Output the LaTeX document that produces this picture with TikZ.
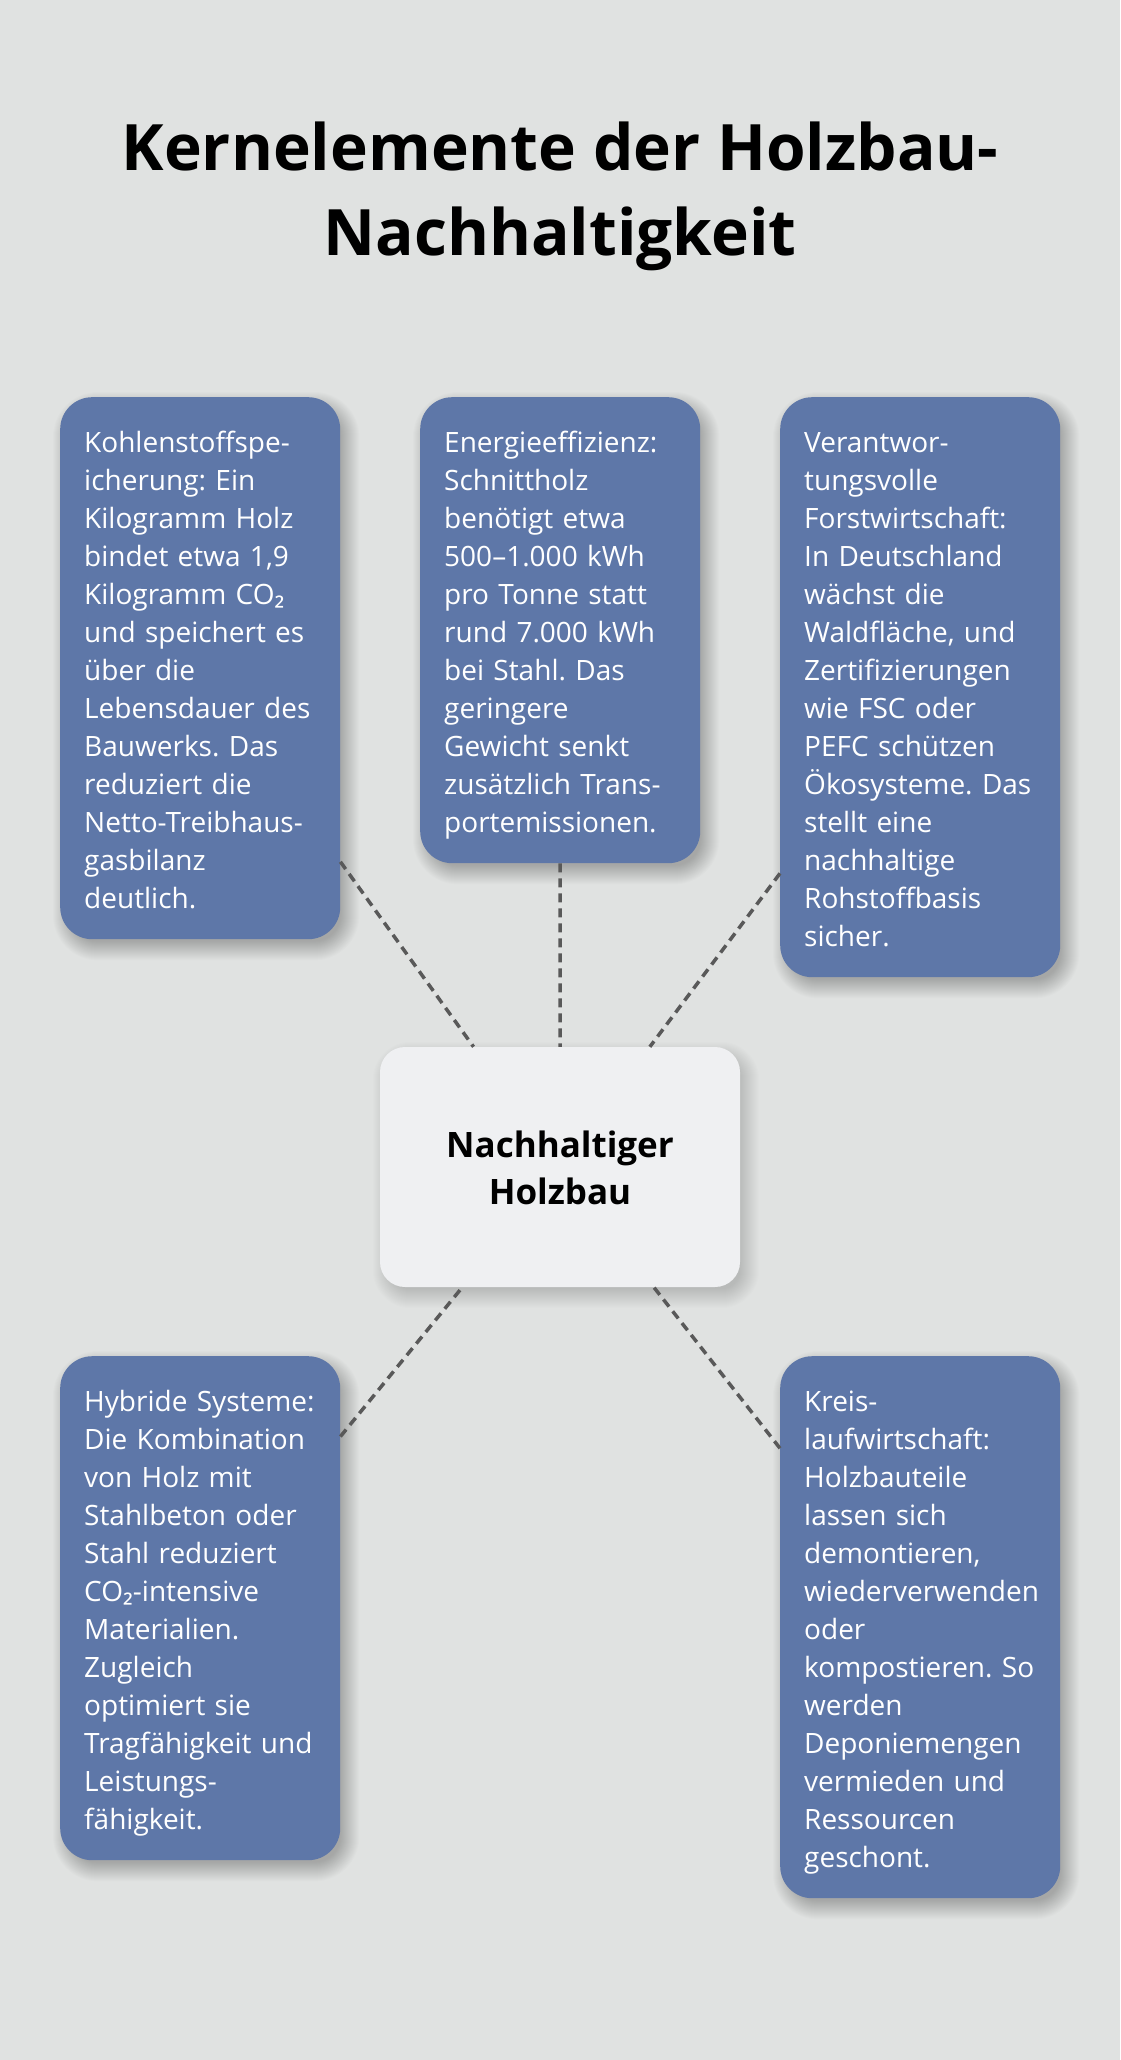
\documentclass[tikz,border=0pt]{standalone}
\usepackage{fontspec}
\setmainfont{Open Sans}
\newfontfamily\subfont{Noto Sans}
\frenchspacing
\definecolor{bg}{HTML}{E0E2E1}
\definecolor{cardblue}{HTML}{5E77A8}
\definecolor{hubfill}{HTML}{EFF0F2}
\definecolor{linkgray}{HTML}{595959}
\newcommand\bstrut{\rule[-7pt]{0pt}{38pt}}
\newcommand\cardline[1]{\mbox{\bstrut#1}}
\newcommand\tstrut{\rule[-20pt]{0pt}{85pt}}
\newcommand\hstrut{\rule[-9.3pt]{0pt}{47pt}}
\newcommand\cotwo{CO{\subfont ₂}}
\pgfdeclarelayer{bglayer}
\pgfdeclarelayer{shadowlayer}
\pgfsetlayers{bglayer,shadowlayer,main}
\begin{document}
\begin{tikzpicture}[x=1pt,y=-1pt,
  card/.style={rectangle, rounded corners=32pt, fill=cardblue, text=white,
    align=left, text width=232pt, inner xsep=24pt, inner ysep=24pt,
    anchor=north west, font=\fontsize{28}{38}\selectfont\frenchspacing},
  hub/.style={rectangle, rounded corners=25pt, fill=hubfill, text=black,
    align=center, minimum width=360pt, minimum height=240pt, inner sep=0pt,
    font=\fontsize{35}{47}\selectfont\bfseries},
  heading/.style={anchor=north, inner sep=0pt, align=center, text=black,
    font=\fontsize{64}{85}\selectfont\bfseries},
  link/.style={draw=linkgray, line width=3.5pt, dash pattern=on 9pt off 6pt}
]
\begin{pgfonlayer}{bglayer}
\fill[bg] (0,0) rectangle (1120,2060);
\end{pgfonlayer}
\useasboundingbox (0,0) rectangle (1120,2060);

\node[heading] (title) at (560,105) {\tstrut Kernelemente der Holzbau-\\\tstrut Nachhaltigkeit};

\node[card] (c1) at (60,397) {\cardline{Kohlenstoffspe-}\\\cardline{icherung: Ein}\\\cardline{Kilogramm Holz}\\\cardline{bindet etwa 1,9}\\\cardline{Kilogramm \cotwo}\\\cardline{und speichert es}\\\cardline{über die}\\\cardline{Lebensdauer des}\\\cardline{Bauwerks. Das}\\\cardline{reduziert die}\\\cardline{Netto-Treibhaus-}\\\cardline{gasbilanz}\\\cardline{deutlich.}};

\node[card] (c2) at (420,397) {\cardline{Energieeffizienz:}\\\cardline{Schnittholz}\\\cardline{benötigt etwa}\\\cardline{500–1.000 kWh}\\\cardline{pro Tonne statt}\\\cardline{rund 7.000 kWh}\\\cardline{bei Stahl. Das}\\\cardline{geringere}\\\cardline{Gewicht senkt}\\\cardline{zusätzlich Trans-}\\\cardline{portemissionen.}};

\node[card] (c3) at (780,397) {\cardline{Verantwor-}\\\cardline{tungsvolle}\\\cardline{Forstwirtschaft:}\\\cardline{In Deutschland}\\\cardline{wächst die}\\\cardline{Waldfläche, und}\\\cardline{Zertifizierungen}\\\cardline{wie FSC oder}\\\cardline{PEFC schützen}\\\cardline{Ökosysteme. Das}\\\cardline{stellt eine}\\\cardline{nachhaltige}\\\cardline{Rohstoffbasis}\\\cardline{sicher.}};

\node[hub] (hub) at (560,1167) {\hstrut Nachhaltiger\\\hstrut Holzbau};

\node[card] (c4) at (60,1356) {\cardline{Hybride Systeme:}\\\cardline{Die Kombination}\\\cardline{von Holz mit}\\\cardline{Stahlbeton oder}\\\cardline{Stahl reduziert}\\\cardline{\cotwo-intensive}\\\cardline{Materialien.}\\\cardline{Zugleich}\\\cardline{optimiert sie}\\\cardline{Tragfähigkeit und}\\\cardline{Leistungs-}\\\cardline{fähigkeit.}};

\node[card] (c5) at (780,1356) {\cardline{Kreis-}\\\cardline{laufwirtschaft:}\\\cardline{Holzbauteile}\\\cardline{lassen sich}\\\cardline{demontieren,}\\\cardline{wiederverwenden}\\\cardline{oder}\\\cardline{kompostieren. So}\\\cardline{werden}\\\cardline{Deponiemengen}\\\cardline{vermieden und}\\\cardline{Ressourcen}\\\cardline{geschont.}};

\begin{pgfonlayer}{shadowlayer}
\foreach \n/\r/\a in {c1/32/0.012, c2/32/0.012, c3/32/0.012, c4/32/0.012, c5/32/0.012, hub/25/0.009}{
  \foreach \e in {-6,...,13}{
    \pgfmathsetmacro\rr{max(\r+\e,2)}
    \fill[black, fill opacity=\a, rounded corners=\rr pt]
      ([shift={(6-\e,8-\e)}]\n.north west) rectangle ([shift={(6+\e,8+\e)}]\n.south east);
  }
}
\end{pgfonlayer}

\draw[link] (c1) -- (hub);
\draw[link] (c2) -- (hub);
\draw[link] (c3) -- (hub);
\draw[link] (c4) -- (hub);
\draw[link] (c5) -- (hub);
\end{tikzpicture}
\end{document}
